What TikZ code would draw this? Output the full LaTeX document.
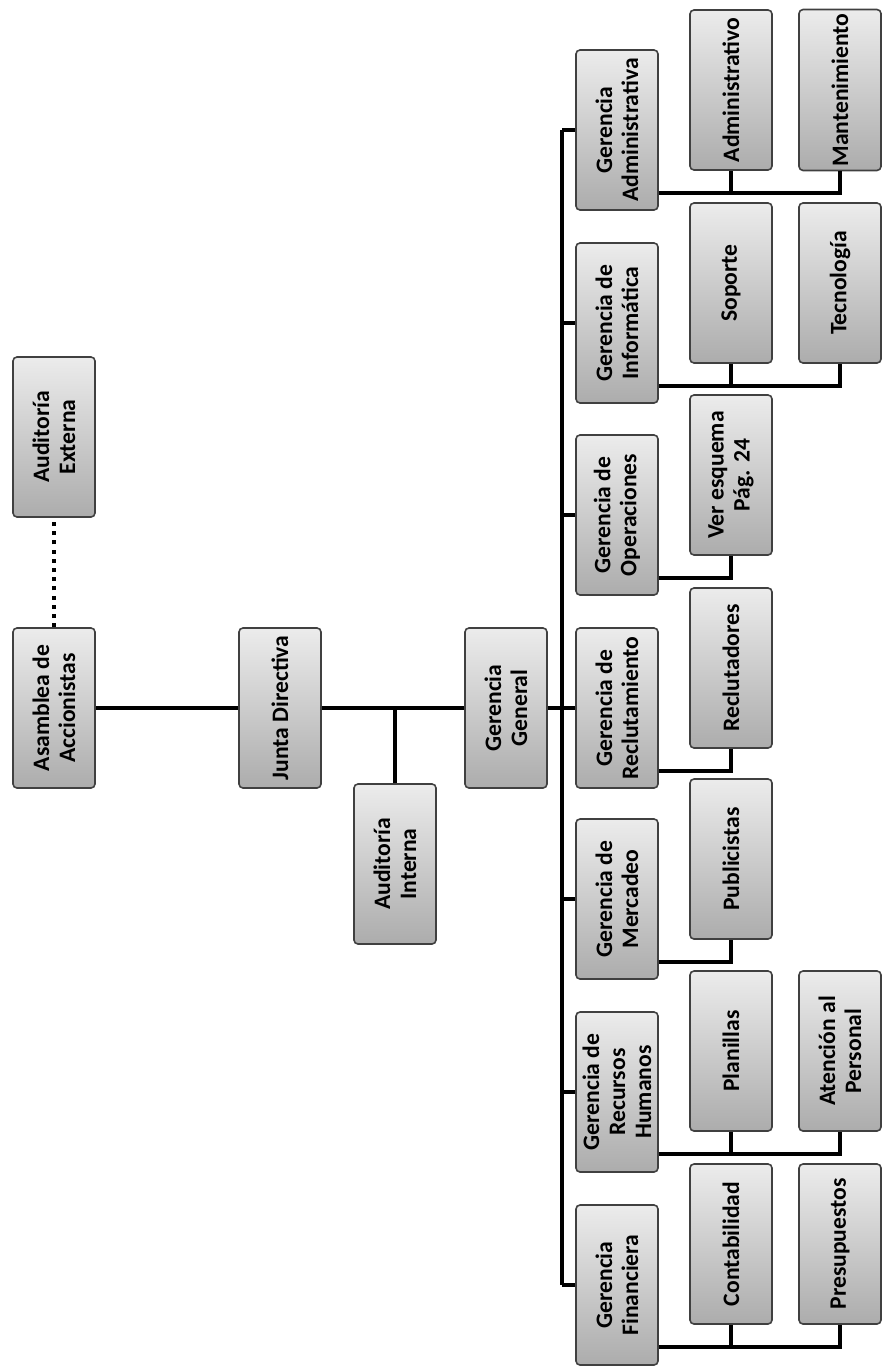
\documentclass[tikz,border=0pt]{standalone}
\usepackage{fontspec}
\setmainfont{Carlito}
\usetikzlibrary{positioning, calc}

\begin{document}
\begin{tikzpicture}[x=0.5pt, y=-0.5pt,
  box/.style={rectangle, rotate=90, rounded corners=2pt, draw=black!75, line width=0.8pt,
              top color=gray!15, bottom color=gray!65,
              minimum width=80pt, minimum height=41pt, inner sep=2pt, align=center,
              font=\bfseries\fontsize{11.8}{13}\selectfont},
  link/.style={line width=1.8pt, black},
  dots/.style={line width=2.2pt, dash pattern=on 2pt off 2.6pt}
]
  \useasboundingbox (0,0) rectangle (882,1370);

  % top of the chart
  \node[box] (asamblea) at (54,  708) {Asamblea de\\Accionistas};
  \node[box] (extaud)   at (54,  437) {Auditoría\\Externa};
  \node[box] (junta)    at (280, 708) {Junta Directiva};
  \node[box] (intaud)   at (395, 864) {Auditoría\\Interna};
  \node[box] (general)  at (506, 708) {Gerencia\\General};

  % gerencias
  \node[box] (admin)  at (617, 130)  {Gerencia\\Administrativa};
  \node[box] (info)   at (617, 323)  {Gerencia de\\Informática};
  \node[box] (oper)   at (617, 515)  {Gerencia de\\Operaciones};
  \node[box] (reclut) at (617, 708)  {Gerencia de\\Reclutamiento};
  \node[box] (merc)   at (617, 899)  {Gerencia de\\Mercadeo};
  \node[box] (rrhh)   at (617, 1092) {Gerencia de\\Recursos\\Humanos};
  \node[box] (fin)    at (617, 1285) {Gerencia\\Financiera};

  % departamentos
  \node[box] (adm)   at (731, 90)   {Administrativo};
  \node[box] (mant)  at (840, 90)   {Mantenimiento};
  \node[box] (sop)   at (731, 283)  {Soporte};
  \node[box] (tec)   at (840, 283)  {Tecnología};
  \node[box] (ver)   at (731, 475)  {Ver esquema\\Pág. 24};
  \node[box] (rec)   at (731, 668)  {Reclutadores};
  \node[box] (pub)   at (731, 859)  {Publicistas};
  \node[box] (plan)  at (731, 1051) {Planillas};
  \node[box] (aten)  at (840, 1051) {Atención al\\Personal};
  \node[box] (cont)  at (731, 1244) {Contabilidad};
  \node[box] (pres)  at (840, 1244) {Presupuestos};

  \draw[dots] (asamblea.east) -- (extaud.west);
  \draw[link] (asamblea.south) -- (junta.north);
  \draw[link] (junta.south) -- (general.north);
  \draw[link] (intaud.east) -- (intaud.east |- junta.south);
  \draw[link] (general.south) -- (reclut.north);

  % bus
  \coordinate (bus) at (562,0);
  \draw[link] (admin.north -| bus) -- (fin.north -| bus);
  \draw[link] (admin.north) -- (admin.north -| bus);
  \draw[link] (info.north)  -- (info.north -| bus);
  \draw[link] (oper.north)  -- (oper.north -| bus);
  \draw[link] (merc.north)  -- (merc.north -| bus);
  \draw[link] (rrhh.north)  -- (rrhh.north -| bus);
  \draw[link] (fin.north)   -- (fin.north -| bus);

  % ramas
  \path (adm.west) ++(0,22) coordinate (j1);
  \draw[link] (j1 -| admin.south) -| (adm.west) (j1) -| (mant.west);
  \path (sop.west) ++(0,22) coordinate (j2);
  \draw[link] (j2 -| info.south) -| (sop.west) (j2) -| (tec.west);
  \path (ver.west) ++(0,22) coordinate (j3);
  \draw[link] (j3 -| oper.south) -| (ver.west);
  \path (rec.west) ++(0,22) coordinate (j4);
  \draw[link] (j4 -| reclut.south) -| (rec.west);
  \path (pub.west) ++(0,22) coordinate (j5);
  \draw[link] (j5 -| merc.south) -| (pub.west);
  \path (plan.west) ++(0,22) coordinate (j6);
  \draw[link] (j6 -| rrhh.south) -| (plan.west) (j6) -| (aten.west);
  \path (cont.west) ++(0,22) coordinate (j7);
  \draw[link] (j7 -| fin.south) -| (cont.west) (j7) -| (pres.west);
\end{tikzpicture}
\end{document}
